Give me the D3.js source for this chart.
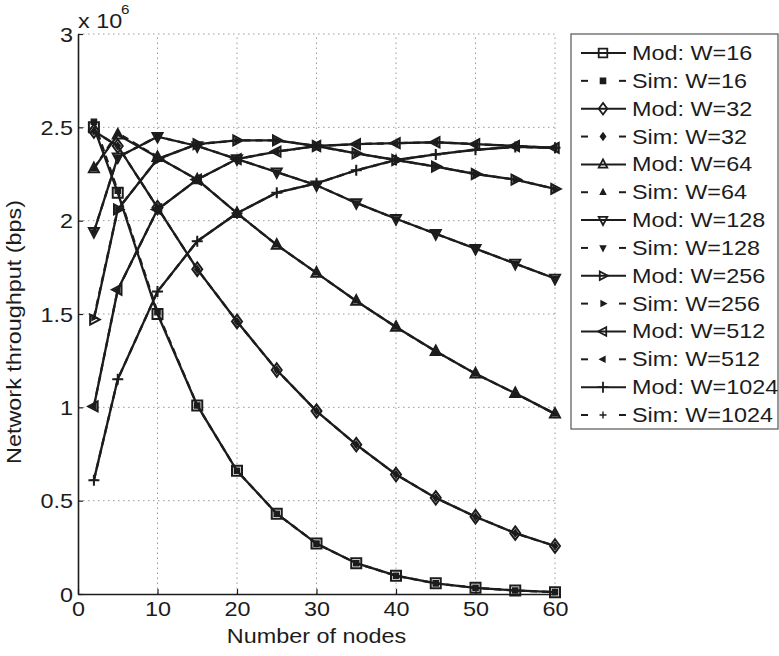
<!DOCTYPE html>
<html>
<head>
<meta charset="utf-8">
<script src="https://cdn.jsdelivr.net/npm/d3@7"></script>
<style>
  body { margin: 0; background: #fff; }
  text { font-family: "Liberation Sans", Arial, sans-serif; fill: #1c1c1c; }
</style>
</head>
<body>
<div id="chart"></div>
<script>
// number of nodes (x) and throughput in units of 1e6 bps
var nodes = [2, 5, 10, 15, 20, 25, 30, 35, 40, 45, 50, 55, 60];
var xTicks = [0, 10, 20, 30, 40, 50, 60];
var yTicks = [0, 0.5, 1, 1.5, 2, 2.5, 3];

var modW16   = [2.50, 2.15, 1.50, 1.01, 0.66, 0.43, 0.27, 0.165, 0.098, 0.057, 0.033, 0.019, 0.010];
var simW16   = [2.53, 2.16, 1.51, 1.01, 0.66, 0.43, 0.27, 0.165, 0.098, 0.057, 0.033, 0.019, 0.010];
var modW32   = [2.48, 2.40, 2.07, 1.74, 1.46, 1.20, 0.98, 0.80, 0.64, 0.515, 0.414, 0.326, 0.257];
var simW32   = [2.48, 2.40, 2.07, 1.74, 1.46, 1.20, 0.98, 0.80, 0.64, 0.515, 0.414, 0.326, 0.257];
var modW64   = [2.28, 2.46, 2.34, 2.22, 2.04, 1.87, 1.72, 1.57, 1.43, 1.30, 1.18, 1.075, 0.965];
var simW64   = [2.28, 2.47, 2.34, 2.22, 2.04, 1.87, 1.72, 1.57, 1.43, 1.30, 1.18, 1.075, 0.965];
var modW128  = [1.94, 2.34, 2.45, 2.40, 2.33, 2.26, 2.19, 2.095, 2.01, 1.93, 1.85, 1.77, 1.69];
var simW128  = [1.94, 2.34, 2.45, 2.40, 2.33, 2.26, 2.19, 2.095, 2.01, 1.93, 1.85, 1.77, 1.69];
var modW256  = [1.47, 2.06, 2.33, 2.41, 2.43, 2.43, 2.40, 2.36, 2.325, 2.29, 2.25, 2.22, 2.17];
var simW256  = [1.48, 2.06, 2.33, 2.41, 2.43, 2.43, 2.40, 2.36, 2.325, 2.29, 2.25, 2.22, 2.17];
var modW512  = [1.005, 1.63, 2.06, 2.22, 2.33, 2.37, 2.40, 2.41, 2.415, 2.42, 2.41, 2.40, 2.39];
var simW512  = [1.005, 1.63, 2.06, 2.22, 2.33, 2.37, 2.40, 2.41, 2.415, 2.42, 2.41, 2.40, 2.39];
var modW1024 = [0.61, 1.15, 1.62, 1.89, 2.04, 2.15, 2.20, 2.27, 2.325, 2.355, 2.38, 2.395, 2.39];
var simW1024 = [0.61, 1.15, 1.62, 1.89, 2.04, 2.15, 2.20, 2.27, 2.325, 2.355, 2.38, 2.395, 2.39];

var windows = ["16", "32", "64", "128", "256", "512", "1024"];
var markers = ["square", "diamond", "up", "down", "right", "left", "plus"];
var modSeries = [modW16, modW32, modW64, modW128, modW256, modW512, modW1024];
var simSeries = [simW16, simW32, simW64, simW128, simW256, simW512, simW1024];

var W = 779, H = 656;
var ink = "#1c1c1c";
var fs = 20;
var sx = 1.17; // glyphs in the reference are a bit wide

var svg = d3.select("#chart").append("svg")
  .attr("width", W).attr("height", H);

var x = d3.scaleLinear().domain([0, 60]).range([78, 555]);
var y = d3.scaleLinear().domain([0, 3]).range([594, 34]);

// marker paths, centred on 0,0
function markerPath(type, r) {
  var p = d3.path();
  if (type == "square") {
    p.rect(-r, -r, 2 * r, 2 * r);
  } else if (type == "diamond") {
    p.moveTo(0, -r * 1.35); p.lineTo(r, 0); p.lineTo(0, r * 1.35); p.lineTo(-r, 0); p.closePath();
  } else if (type == "up") {
    p.moveTo(0, -r * 1.15); p.lineTo(r, r * 0.75); p.lineTo(-r, r * 0.75); p.closePath();
  } else if (type == "down") {
    p.moveTo(0, r * 1.15); p.lineTo(r, -r * 0.75); p.lineTo(-r, -r * 0.75); p.closePath();
  } else if (type == "right") {
    p.moveTo(r * 1.15, 0); p.lineTo(-r * 0.75, r); p.lineTo(-r * 0.75, -r); p.closePath();
  } else if (type == "left") {
    p.moveTo(-r * 1.15, 0); p.lineTo(r * 0.75, r); p.lineTo(r * 0.75, -r); p.closePath();
  } else {
    p.moveTo(-r, 0); p.lineTo(r, 0); p.moveTo(0, -r); p.lineTo(0, r);
  }
  return p.toString();
}

// dotted grid
var grid = svg.append("g");
grid.selectAll(".gx").data(xTicks.slice(1)).enter().append("line")
  .attr("x1", function(d){ return x(d); }).attr("x2", function(d){ return x(d); })
  .attr("y1", y(0)).attr("y2", y(3));
grid.selectAll(".gy").data(yTicks.slice(1)).enter().append("line")
  .attr("x1", x(0)).attr("x2", x(60))
  .attr("y1", function(d){ return y(d); }).attr("y2", function(d){ return y(d); });
grid.selectAll("line")
  .attr("stroke", "#9a9a9a").attr("stroke-width", 1).attr("stroke-dasharray", "1.5,3.5");

// axes (MATLAB style ticks pointing inwards, box off)
var xAxis = svg.append("g").attr("transform", "translate(0," + y(0) + ")")
  .call(d3.axisBottom(x).tickValues(xTicks).tickSizeInner(-5).tickSizeOuter(0).tickPadding(8));
var yAxis = svg.append("g").attr("transform", "translate(" + x(0) + ",0)")
  .call(d3.axisLeft(y).tickValues(yTicks).tickFormat(d3.format("")).tickSizeInner(-5).tickSizeOuter(0));
[xAxis, yAxis].forEach(function(a) {
  a.select(".domain").attr("stroke", ink).attr("stroke-width", 1.6);
  a.selectAll(".tick line").attr("stroke", ink).attr("stroke-width", 1.2);
  a.selectAll("text").attr("font-size", fs).attr("fill", ink)
    .style("font-family", "'Liberation Sans', Arial, sans-serif");
});
xAxis.selectAll("text").attr("transform", "scale(" + sx + ",1)");
yAxis.selectAll("text").attr("x", -5 / sx).attr("dy", "0.36em").attr("transform", "scale(" + sx + ",1)");

// exponent note
svg.append("text").attr("transform", "translate(78,28) scale(" + sx + ",1)")
  .attr("font-size", fs).text("x 10");
svg.append("text").attr("transform", "translate(121,14) scale(" + sx + ",1)")
  .attr("font-size", 13).text("6");

// axis labels
svg.append("text")
  .attr("transform", "translate(" + ((x(0) + x(60)) / 2) + ",643) scale(" + sx + ",1)")
  .attr("text-anchor", "middle").attr("font-size", fs).text("Number of nodes");
svg.append("text")
  .attr("transform", "translate(21,332) rotate(-90) scale(" + sx + ",1)")
  .attr("text-anchor", "middle").attr("font-size", fs).text("Network throughput (bps)");

// series
var line = d3.line()
  .x(function(d, i){ return x(nodes[i]); })
  .y(function(d){ return y(d); });

var plot = svg.append("g");
modSeries.forEach(function(vals, k) {
  plot.append("path").datum(simSeries[k]).attr("d", line)
    .attr("fill", "none").attr("stroke", ink).attr("stroke-width", 2.3)
    .attr("stroke-dasharray", "7,5");
  plot.append("path").datum(vals).attr("d", line)
    .attr("fill", "none").attr("stroke", ink).attr("stroke-width", 2.3);
});
modSeries.forEach(function(vals, k) {
  var m = markers[k];
  plot.selectAll(null).data(simSeries[k]).enter().append("path")
    .attr("transform", function(d, i){ return "translate(" + x(nodes[i]) + "," + y(d) + ")"; })
    .attr("d", markerPath(m, m == "plus" ? 3.5 : 2.6))
    .attr("fill", ink).attr("stroke", ink).attr("stroke-width", 1.4);
  plot.selectAll(null).data(vals).enter().append("path")
    .attr("transform", function(d, i){ return "translate(" + x(nodes[i]) + "," + y(d) + ")"; })
    .attr("d", markerPath(m, m == "plus" ? 5.5 : 5))
    .attr("fill", "none").attr("stroke", ink).attr("stroke-width", 2);
});

// legend
var lg = svg.append("g");
lg.append("rect").attr("x", 571).attr("y", 34).attr("width", 207).attr("height", 395)
  .attr("fill", "#fff").attr("stroke", "#555").attr("stroke-width", 1.2);
var entries = [];
windows.forEach(function(w, k) {
  entries.push({ label: "Mod: W=" + w, marker: markers[k], sim: false });
  entries.push({ label: "Sim: W=" + w, marker: markers[k], sim: true });
});
var row = d3.scaleLinear().domain([0, entries.length - 1]).range([53, 415]);
entries.forEach(function(e, i) {
  var cy = row(i);
  if (e.sim) {
    lg.append("line").attr("x1", 581).attr("x2", 588).attr("y1", cy).attr("y2", cy);
    lg.append("line").attr("x1", 619).attr("x2", 626).attr("y1", cy).attr("y2", cy);
    lg.append("path").attr("transform", "translate(603," + cy + ")")
      .attr("d", markerPath(e.marker, e.marker == "plus" ? 3.5 : 2.6))
      .attr("fill", ink).attr("stroke", ink).attr("stroke-width", 1.4);
  } else {
    lg.append("line").attr("x1", 581).attr("x2", 626).attr("y1", cy).attr("y2", cy);
    lg.append("path").attr("transform", "translate(603," + cy + ")")
      .attr("d", markerPath(e.marker, e.marker == "plus" ? 5.5 : 4.3))
      .attr("fill", "none").attr("stroke", ink).attr("stroke-width", 1.8);
  }
  lg.append("text").attr("transform", "translate(632," + (cy + 7) + ") scale(" + sx + ",1)")
    .attr("font-size", fs).text(e.label);
});
lg.selectAll("line").attr("stroke", ink).attr("stroke-width", 2);
</script>
</body>
</html>
